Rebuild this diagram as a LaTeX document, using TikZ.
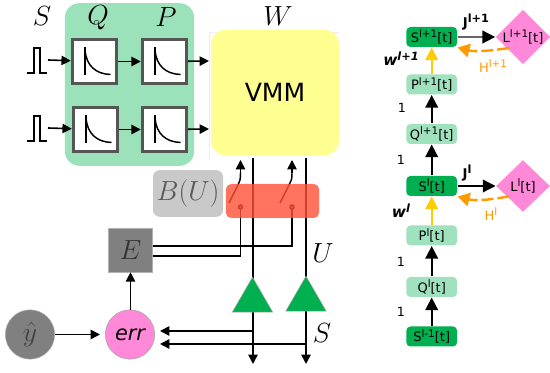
\documentclass[tikz,border=0pt]{standalone}
\usepackage{fontspec}
\newfontfamily\dejavu{DejaVu Sans}
\usetikzlibrary{arrows.meta,shapes.geometric}
\definecolor{bggreen}{RGB}{155,225,185}
\definecolor{palegreen}{RGB}{160,225,190}
\definecolor{spikegreen}{RGB}{0,176,80}
\definecolor{vmmyellow}{RGB}{255,255,145}
\definecolor{lossred}{RGB}{255,80,55}
\definecolor{errpink}{RGB}{255,136,216}
\definecolor{gateyellow}{RGB}{255,204,0}
\definecolor{hebborange}{RGB}{255,153,0}
\newcommand{\lsup}[1]{\raisebox{0.62ex}{\fontsize{7.8}{9}\selectfont #1}}
\tikzset{every picture/.style={line width=0.75pt}}
\tikzset{
filterbox/.style={draw={rgb, 255:red, 85; green, 85; blue, 85},line width=2.6pt,fill=white,minimum width=33pt,minimum height=33pt,inner sep=0pt},
mathlabel/.style={inner sep=0pt,font=\fontsize{21.5}{24}\selectfont},
sig/.style={line width=1.2pt,-{Triangle[length=7pt,width=7pt]}},
wire/.style={line width=1.1pt},
amp/.style={regular polygon,regular polygon sides=3,fill=spikegreen,draw=gray!70,line width=0.4pt,minimum size=35pt,inner sep=0pt},
var/.style={rounded corners=3pt,minimum width=38pt,minimum height=15pt,inner sep=0pt,font=\dejavu\fontsize{9.75}{11}\selectfont},
spk/.style={var,fill=spikegreen},
stt/.style={var,fill=palegreen},
tgt/.style={diamond,fill=errpink,minimum width=40.5pt,minimum height=39pt,inner sep=0pt,font=\dejavu\fontsize{9.75}{11}\selectfont},
bigsig/.style={line width=1.3pt,-{Triangle[length=9.5pt,width=9.5pt,color=.]}},
one/.style={inner sep=0pt,font=\dejavu\fontsize{9.5}{11}\selectfont},
blbl/.style={inner sep=0pt,font=\dejavu\bfseries\fontsize{10}{12}\selectfont},
wlbl/.style={inner sep=0pt,font=\dejavu\bfseries\itshape\fontsize{11.5}{13}\selectfont},
hlbl/.style={inner sep=0pt,text=hebborange,font=\dejavu\fontsize{9.75}{11}\selectfont},
hebb/.style={hebborange,line width=1.8pt,dash pattern=on 9pt off 3pt,-{Triangle[length=9pt,width=10pt]}}
}
\begin{document}
\begin{tikzpicture}[x=0.75pt,y=0.75pt,yscale=-1,xscale=1]
\useasboundingbox (0,0) rectangle (550,373);

%Shape: Rounded Rect
\node [fill=bggreen,rounded corners=11pt,minimum width=97pt,minimum height=122pt,inner sep=0pt] (bank) at (129.5,84.5) {};
\draw [gray!15] (209.5,159) -- (209.5,33) -- (339,33) ;
\node [fill=vmmyellow,rounded corners=11pt,minimum width=96pt,minimum height=94pt,inner sep=0pt,font=\dejavu\fontsize{18.8}{22}\selectfont] (vmm) at (275,92.5) {VMM};

% Text Node
\node [mathlabel] (lblS) at (42,16) {$S$};
\node [mathlabel] (lblQ) at (98,18) {$Q$};
\node [mathlabel] (lblP) at (166,17) {$P$};
\node [mathlabel] (lblW) at (278,16) {$W$};
\node [mathlabel] (lblU) at (323,253) {$U$};
\node [mathlabel] (lblSb) at (322,333) {$S$};

%Filters
\node [filterbox] (Qa) at (94.5,61.5) {};
\node [filterbox] (Pa) at (164.5,61.5) {};
\node [filterbox] (Qb) at (95.5,129.5) {};
\node [filterbox] (Pb) at (164.5,129.5) {};
\foreach \n in {Qa,Pa,Qb,Pb}{
\draw [line width=1.1pt] (\n.center) ++(-9.5,-14) -- ++(0,28) ;
\draw [line width=1.1pt] (\n.center) ++(-9.5,-11) .. controls +(1.5,15) and +(-15,-0.5) .. ++(25.5,24) ;
}

%Pulses
\coordinate (pulsea) at (48,60);
\coordinate (pulseb) at (48,128);
\foreach \n in {pulsea,pulseb}{
\draw [line width=0.9pt] (\n) ++(-21,13) -- ++(7,0) -- ++(0,-25) -- ++(6,0) -- ++(0,25) -- ++(7,0) ;
}
\coordinate (ina) at (209,61);
\coordinate (inb) at (209,129);
\draw [sig] (pulsea) -- (Qa) ;
\draw [sig] (pulseb) -- (Qb) ;
\draw [sig] (Qa) -- (Pa) ;
\draw [sig] (Qb) -- (Pb) ;
\draw [sig] (Pa) -- (ina) ;
\draw [sig] (Pb) -- (inb) ;

%Crossbar lines
\coordinate (outa) at (253,158);
\coordinate (outb) at (306,158);
\coordinate (enda) at (253,364);
\coordinate (endb) at (306,364);
\draw [sig] (outa) -- (enda) ;
\draw [sig] (outb) -- (endb) ;

%Output amplifiers
\node [amp] (ampa) at (252.5,300.5) {};
\node [amp] (ampb) at (306,299.5) {};

%Error unit
\node [circle,fill=gray,draw=gray!60,line width=0.4pt,minimum size=37pt,inner sep=0pt,font=\fontsize{20}{22}\selectfont,text=black!75] (yhat) at (30,334.5) {$\hat{y}$};
\node [circle,fill=errpink,draw=gray!70,line width=0.4pt,minimum size=37pt,inner sep=0pt,font=\dejavu\itshape\fontsize{15.6}{18}\selectfont] (err) at (130,334.5) {err};
\node [fill=gray,draw=gray!60,line width=0.4pt,minimum width=33pt,minimum height=33pt,inner sep=0pt,font=\fontsize{20}{22}\selectfont,text=black!80] (E) at (130.5,250) {$E$};
\coordinate (yin) at (100,334.5);
\draw [sig] (yhat) -- (yin) ;
\draw [sig] (err.north -| E) -- (E) ;
\coordinate (tapa) at (253,331);
\coordinate (tapb) at (306,344);
\coordinate (reta) at (160,331);
\coordinate (retb) at (160,344);
\draw [sig] (tapa) -- (reta) ;
\draw [sig] (tapb) -- (retb) ;

%Plasticity switches
\coordinate (ctla) at (240.5,207);
\coordinate (ctlb) at (292,207);
\coordinate (gatea) at (240.5,160);
\coordinate (gateb) at (292,160);
\draw [wire] (E.east |- 0,246) -| (ctlb) ;
\draw [wire] (E.east |- 0,256) -| (ctla) ;
\draw [wire,fill=lossred] (ctla) circle (2) ;
\draw [wire,fill=lossred] (ctlb) circle (2) ;
\draw [wire] (229,203) -- (238,185) .. controls (240,181) and (240.5,180) .. (240.5,172) ;
\draw [wire] (280,203) -- (289.5,184) .. controls (291.5,180) and (292,180) .. (292,172) ;
\coordinate (swa) at (240.5,173);
\coordinate (swb) at (292,173);
\draw [sig] (swa) -- (gatea) ;
\draw [sig] (swb) -- (gateb) ;

%Overlays
\node [fill=lossred,fill opacity=0.8,rounded corners=4pt,minimum width=70pt,minimum height=25.5pt,inner sep=0pt] (learn) at (272.5,201) {};
\node [fill=gray!42,rounded corners=5pt,minimum width=52.5pt,minimum height=35pt,inner sep=0pt,font=\fontsize{20}{22}\selectfont,text=black!65] (BU) at (188,193.5) {$B(U)$};

%Layer graph
\node [spk] (Stop) at (431.7,37) {S\lsup{l+1}[t]};
\node [stt] (Ptop) at (431.7,84.5) {P\lsup{l+1}[t]};
\node [stt] (Qtop) at (431.7,134) {Q\lsup{l+1}[t]};
\node [spk] (Smid) at (431.7,186) {S\lsup{l}[t]};
\node [stt] (Pmid) at (431.7,235.5) {P\lsup{l}[t]};
\node [stt] (Qmid) at (431.7,287) {Q\lsup{l}[t]};
\node [spk] (Slow) at (431.7,336.5) {S\lsup{l-1}[t]};
\node [tgt] (Ltop) at (523,37) {L\lsup{l+1}[t]};
\node [tgt] (Lmid) at (523,186) {L\lsup{l}[t]};

\draw [bigsig] (Slow) -- (Qmid) ;
\draw [bigsig] (Qmid) -- (Pmid) ;
\draw [bigsig,gateyellow] (Pmid) -- (Smid) ;
\draw [bigsig] (Smid) -- (Qtop) ;
\draw [bigsig] (Qtop) -- (Ptop) ;
\draw [bigsig,gateyellow] (Ptop) -- (Stop) ;
\draw [bigsig,black!60,-{Triangle[length=9.5pt,width=9.5pt,color=black]}] (Stop) -- (Ltop) ;
\draw [bigsig,line width=1pt] (Smid) -- (Lmid) ;
\draw [hebb] (Ltop.south west) ++(0,-3) .. controls (490,51) and (475,52) .. (Stop.south east) ;
\draw [hebb] (Lmid.south west) ++(0,-3) .. controls (490,200) and (475,201) .. (Smid.south east) ;

% Text Node
\node [blbl] (Jtop) at (476,22) {J\lsup{\fontsize{8.5}{10}\selectfont l+1}};
\node [blbl] (Jmid) at (467,173) {J\lsup{\fontsize{8.5}{10}\selectfont l}};
\node [wlbl] (wtop) at (401,59) {w\lsup{\fontsize{8.5}{10}\selectfont l+1}};
\node [wlbl] (wmid) at (401,211) {w\lsup{\fontsize{8.5}{10}\selectfont l}};
\node [hlbl] (Htop) at (493,66) {H\lsup{l+1}};
\node [hlbl] (Hmid) at (491,214) {H\lsup{l}};
\node [one] (ona) at (402,108) {1};
\node [one] (onb) at (401,160) {1};
\node [one] (onc) at (401,262) {1};
\node [one] (ond) at (401,312) {1};
\end{tikzpicture}
\end{document}
